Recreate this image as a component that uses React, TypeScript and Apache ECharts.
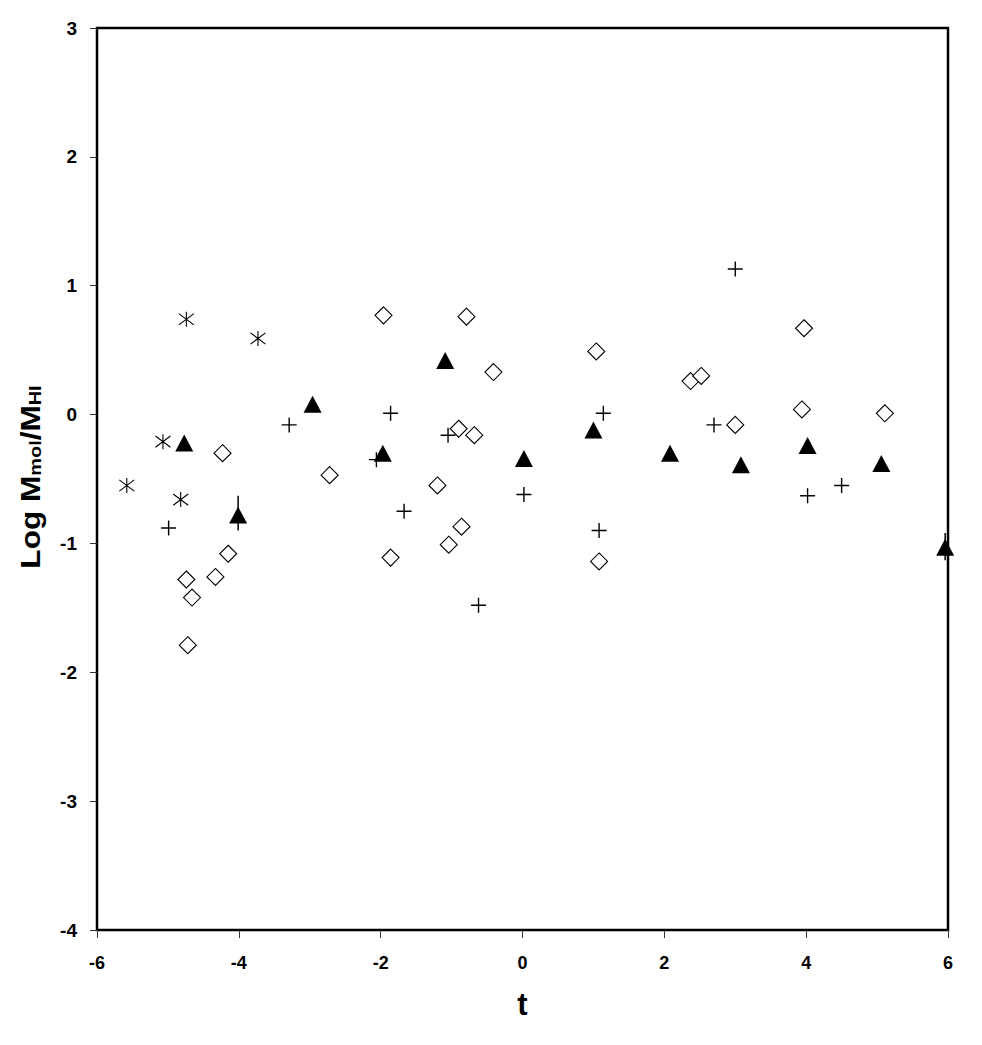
import React, { useEffect, useRef } from "react";
import * as echarts from "echarts";

// Asterisk series
const starT = [-5.58, -5.07, -4.74, -4.82, -3.73];
const starV = [-0.55, -0.21, 0.74, -0.66, 0.59];

// Filled triangles
const triT = [-4.77, -4.01, -2.96, -1.97, -1.09, 0.02, 1.0, 2.08, 3.08, 4.02, 5.06, 5.96];
const triV = [-0.22, -0.78, 0.08, -0.3, 0.42, -0.34, -0.12, -0.3, -0.39, -0.24, -0.38, -1.03];

// Error bars on triangles
const errT = [-4.01, 5.96];
const errLo = [-0.9, -1.13];
const errHi = [-0.63, -0.92];

// Open diamonds
const diaT = [-4.74, -4.66, -4.72, -4.33, -4.15, -4.23, -2.72, -1.96, -1.86, -1.2, -1.04, -0.9, -0.86, -0.79, -0.68, -0.41, 1.04, 1.08, 2.37, 2.52, 3.0, 3.97, 3.94, 5.11];
const diaV = [-1.28, -1.42, -1.79, -1.26, -1.08, -0.3, -0.47, 0.77, -1.11, -0.55, -1.01, -0.11, -0.87, 0.76, -0.16, 0.33, 0.49, -1.14, 0.26, 0.3, -0.08, 0.67, 0.04, 0.01];

// Plus signs
const plusT = [-4.99, -3.29, -2.06, -1.86, -1.67, -1.05, -0.62, 0.02, 1.08, 1.14, 3.0, 2.7, 4.02, 4.5];
const plusV = [-0.88, -0.08, -0.35, 0.01, -0.75, -0.16, -1.48, -0.62, -0.9, 0.01, 1.13, -0.08, -0.63, -0.55];

const xMin = -6, xMax = 6, xStep = 2;
const yMin = -4, yMax = 3, yStep = 1;

const zip = (a: number[], b: number[]) => a.map((v, i) => [v, b[i]]);

const FONT = "'Liberation Sans', Arial, sans-serif";

export default function App() {
  const ref = useRef<HTMLDivElement>(null);
  useEffect(() => {
    if (!ref.current) return;
    const chart = echarts.init(ref.current, undefined, { renderer: "svg" });
    chart.setOption({
      animation: false,
      backgroundColor: "#fff",
      grid: {
        left: 97,
        top: 28,
        right: 34,
        bottom: 115,
        show: true,
        borderColor: "#000",
        borderWidth: 2.5,
        backgroundColor: "transparent",
      },
      graphic: [
        {
          type: "text",
          x: 28,
          y: 477,
          rotation: Math.PI / 2,
          scaleX: 1.17,
          style: {
            text: "{a|Log M}{s|mol}{a|/M}{s|HI}",
            align: "center",
            verticalAlign: "middle",
            rich: {
              a: { fontFamily: FONT, fontWeight: "bold", fontSize: 27, fill: "#000", verticalAlign: "bottom", lineHeight: 32 },
              s: { fontFamily: FONT, fontWeight: "bold", fontSize: 17, fill: "#000", verticalAlign: "bottom", lineHeight: 16 },
            },
          },
        },
      ],
      xAxis: {
        type: "value",
        min: xMin,
        max: xMax,
        interval: xStep,
        name: "t",
        nameLocation: "middle",
        nameGap: 59,
        nameTextStyle: { fontFamily: FONT, fontWeight: "bold", fontSize: 31, color: "#000" },
        axisLine: { show: false, onZero: false },
        axisTick: { show: true, inside: false, length: 8, lineStyle: { color: "#333", width: 1 } },
        axisLabel: { fontFamily: FONT, fontWeight: "bold", fontSize: 18, color: "#000", margin: 24 },
        splitLine: { show: false },
      },
      yAxis: {
        type: "value",
        min: yMin,
        max: yMax,
        interval: yStep,
        axisLine: { show: false, onZero: false },
        axisTick: { show: true, inside: false, length: 7, lineStyle: { color: "#333", width: 1 } },
        axisLabel: { fontFamily: FONT, fontWeight: "bold", fontSize: 19, color: "#000", margin: 20 },
        splitLine: { show: false },
      },
      series: [
        {
          type: "custom",
          z: 1,
          data: errT.map((t, i) => [t, errLo[i], errHi[i]]),
          renderItem: (params: any, api: any) => {
            const p1 = api.coord([api.value(0), api.value(1)]);
            const p2 = api.coord([api.value(0), api.value(2)]);
            return {
              type: "line",
              shape: { x1: p1[0], y1: p1[1], x2: p2[0], y2: p2[1] },
              style: { stroke: "#000", lineWidth: 1.5 },
            };
          },
        },
        {
          type: "scatter",
          z: 3,
          symbol: "diamond",
          symbolSize: [17, 17],
          itemStyle: { color: "#fff", borderColor: "#000", borderWidth: 1.1, opacity: 1 },
          data: zip(diaT, diaV),
        },
        {
          type: "scatter",
          z: 4,
          symbol: "triangle",
          symbolSize: [18, 17],
          itemStyle: { color: "#000", opacity: 1 },
          data: zip(triT, triV),
        },
        {
          type: "scatter",
          z: 5,
          symbol: "path://M7,0L7,14M0,7L14,7",
          symbolSize: 15,
          itemStyle: { color: "none", borderColor: "#000", borderWidth: 1.4, opacity: 1 },
          data: zip(plusT, plusV),
        },
        {
          type: "scatter",
          z: 5,
          symbol: "path://M8,0L8,16M0,2L16,14M0,14L16,2",
          symbolSize: 15,
          itemStyle: { color: "none", borderColor: "#000", borderWidth: 1.1, opacity: 1 },
          data: zip(starT, starV),
        },
      ],
    });
    return () => chart.dispose();
  }, []);
  return (
    <div
      ref={ref}
      style={{ position: "absolute", left: 0, top: 0, width: 982, height: 1045 }}
    />
  );
}
